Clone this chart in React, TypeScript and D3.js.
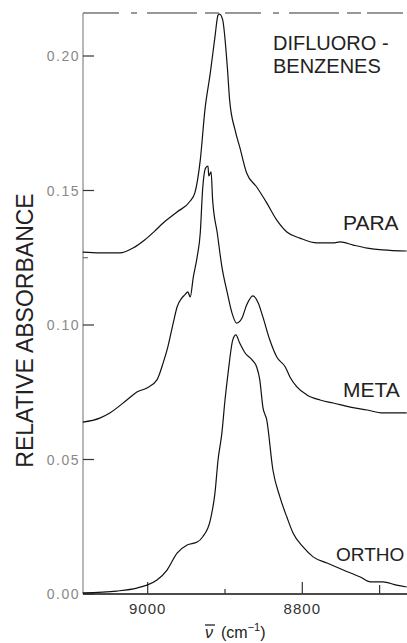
import React from "react";
import * as d3 from "d3";

// wavenumber (cm-1) and relative absorbance
const paraNu = [9084, 9062, 9036, 9019, 9004, 8991, 8980, 8962, 8945, 8939, 8932, 8926, 8919, 8913, 8909, 8907, 8903, 8897, 8894, 8887, 8881, 8872, 8859, 8846, 8833, 8820, 8803, 8781, 8760, 8751, 8734, 8716, 8696, 8665];
const paraA = [0.1271, 0.1268, 0.1268, 0.1286, 0.1316, 0.1349, 0.1379, 0.142, 0.1461, 0.1491, 0.1613, 0.1799, 0.1937, 0.2071, 0.2152, 0.2156, 0.2134, 0.1959, 0.1836, 0.1725, 0.1662, 0.1565, 0.1513, 0.1454, 0.139, 0.1346, 0.1323, 0.1305, 0.1305, 0.1309, 0.1297, 0.1286, 0.1279, 0.1275];

const metaNu = [9084, 9062, 9049, 9027, 9014, 9001, 8988, 8980, 8974, 8967, 8962, 8956, 8952, 8948, 8945, 8941, 8936, 8932, 8929, 8925, 8922, 8921, 8918, 8916, 8910, 8904, 8897, 8891, 8885, 8878, 8872, 8864, 8857, 8851, 8842, 8833, 8822, 8816, 8807, 8794, 8777, 8760, 8738, 8716, 8696, 8665];
const metaA = [0.0639, 0.0654, 0.0673, 0.0721, 0.0751, 0.0766, 0.0796, 0.0859, 0.0918, 0.1007, 0.1067, 0.11, 0.1112, 0.1123, 0.1104, 0.1178, 0.1253, 0.1342, 0.1502, 0.1584, 0.1591, 0.1554, 0.1569, 0.1465, 0.1342, 0.1216, 0.1119, 0.1045, 0.1007, 0.1026, 0.1074, 0.1108, 0.1082, 0.103, 0.0944, 0.0881, 0.0844, 0.0807, 0.077, 0.074, 0.0721, 0.071, 0.0695, 0.0684, 0.0673, 0.0673];

const orthoNu = [9084, 9040, 9014, 9001, 8988, 8975, 8962, 8949, 8936, 8929, 8919, 8913, 8909, 8904, 8900, 8896, 8890, 8886, 8881, 8874, 8865, 8859, 8855, 8851, 8846, 8838, 8829, 8820, 8812, 8799, 8786, 8768, 8747, 8725, 8712, 8696, 8678, 8665];
const orthoA = [0.0004, 0.0011, 0.0022, 0.0033, 0.0052, 0.0089, 0.0152, 0.0182, 0.0193, 0.0212, 0.0275, 0.0375, 0.0498, 0.0599, 0.0721, 0.0822, 0.0944, 0.0963, 0.0933, 0.0896, 0.087, 0.0844, 0.0796, 0.0695, 0.0647, 0.0461, 0.0361, 0.0286, 0.0227, 0.0175, 0.0138, 0.0115, 0.0089, 0.0063, 0.0045, 0.0045, 0.0033, 0.0026];

const yTicks = [0.0, 0.05, 0.1, 0.15, 0.2];
const yTickLabels = ["0.00", "0.05", "0.10", "0.15", "0.20"];
const yMinor = [0.125];
const xTicks = [9000, 8900, 8800, 8700];
const xTickLabels = ["9000", "", "8800", ""];

const font = "'Liberation Sans', Arial, sans-serif";

export default function App() {
  const W = 407;
  const H = 643;
  const left = 83;
  const bottom = 594;
  const top = 13;

  const x = d3.scaleLinear().domain([9000, 8800]).range([147.7, 302.3]);
  const y = d3.scaleLinear().domain([0, 0.05]).range([bottom, 459.5]);

  const line = d3
    .line<[number, number]>()
    .x((d) => x(d[0]))
    .y((d) => y(d[1]))
    .curve(d3.curveMonotoneX);

  const series = [
    { nu: paraNu, a: paraA },
    { nu: metaNu, a: metaA },
    { nu: orthoNu, a: orthoA },
  ];

  return (
    <svg
      width={W}
      height={H}
      style={{ position: "absolute", left: 0, top: 0, background: "#fff" }}
    >
      {/* frame */}
      <line x1={left} x2={W} y1={top} y2={top} stroke="#333" strokeWidth={1.2} strokeDasharray="36 12 6 10 50 8 14 6" />
      <line x1={left} x2={left} y1={top} y2={bottom} stroke="#888" strokeWidth={1.2} />
      <line x1={left} x2={W} y1={bottom} y2={bottom} stroke="#111" strokeWidth={1.5} />

      {/* y ticks */}
      {yTicks.map((t, i) => (
        <g key={"y" + i}>
          <line x1={left} x2={left + 11} y1={y(t)} y2={y(t)} stroke="#333" strokeWidth={1.2} />
          <text x={80} y={y(t) + 5} textAnchor="end" fontFamily={font} fontSize={14} fill="#888" letterSpacing={1.5}>
            {yTickLabels[i]}
          </text>
        </g>
      ))}
      {yMinor.map((t, i) => (
        <line key={"ym" + i} x1={left} x2={left + 5} y1={y(t)} y2={y(t)} stroke="#555" strokeWidth={1} />
      ))}

      {/* x ticks */}
      {xTicks.map((t, i) => (
        <g key={"x" + i}>
          <line x1={x(t)} x2={x(t)} y1={bottom} y2={bottom - (xTickLabels[i] ? 12 : t === 8900 ? 5 : 9)} stroke="#333" strokeWidth={1.2} />
          {xTickLabels[i] && (
            <text x={x(t)} y={614} textAnchor="middle" fontFamily={font} fontSize={15} fill="#333" letterSpacing={1}>
              {xTickLabels[i]}
            </text>
          )}
        </g>
      ))}

      {/* spectra */}
      {series.map((s, i) => (
        <path
          key={"s" + i}
          d={line(s.nu.map((n, j) => [n, s.a[j]] as [number, number])) || ""}
          fill="none"
          stroke="#111"
          strokeWidth={1.2}
        />
      ))}

      {/* axis titles */}
      <text transform="translate(33,330.5) rotate(-90)" textAnchor="middle" fontFamily={font} fontSize={23} fill="#222">
        RELATIVE ABSORBANCE
      </text>
      <text x={205} y={638} fontFamily={font} fontSize={16} fill="#222" fontStyle="italic">
        ν
        <tspan dx={8} fontStyle="normal">(cm</tspan>
        <tspan dy={-7} fontSize={11} fontStyle="normal">−1</tspan>
        <tspan dy={7} fontStyle="normal">)</tspan>
      </text>
      <line x1={205} x2={215} y1={625} y2={625} stroke="#222" strokeWidth={1.3} />

      {/* labels */}
      <text x={273} y={50} fontFamily={font} fontSize={20} fill="#222">DIFLUORO -</text>
      <text x={273} y={73} fontFamily={font} fontSize={20} fill="#222">BENZENES</text>
      <text x={343} y={230} fontFamily={font} fontSize={21} fill="#222">PARA</text>
      <text x={343} y={397} fontFamily={font} fontSize={21} fill="#222">META</text>
      <text x={336} y={561} fontFamily={font} fontSize={19} fill="#222">ORTHO</text>
    </svg>
  );
}
